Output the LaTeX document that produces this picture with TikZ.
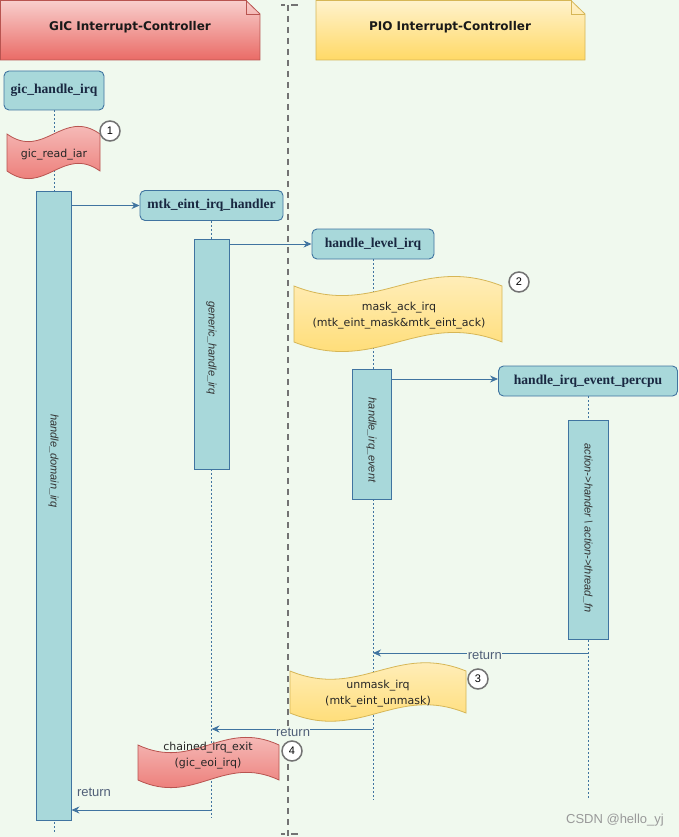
\documentclass[tikz,border=0pt]{standalone}
\usepackage{fontspec}
\setmainfont{Liberation Serif}
\setsansfont{Liberation Sans}
\newfontfamily\titlefont{DejaVu Sans}
\newfontfamily\wavefont{DejaVu Sans}
\usepackage{tikz}
\usetikzlibrary{arrows.meta,calc,positioning}

\definecolor{bgcol}{RGB}{240,249,238}
\definecolor{tealfill}{RGB}{168,216,218}
\definecolor{bluedraw}{RGB}{64,116,160}
\definecolor{redtop}{RGB}{248,206,204}
\definecolor{redbot}{RGB}{234,107,102}
\definecolor{redline}{RGB}{184,84,80}
\definecolor{yeltop}{RGB}{255,242,204}
\definecolor{yelbot}{RGB}{255,217,102}
\definecolor{yelline}{RGB}{214,182,86}
\definecolor{sepgray}{RGB}{115,115,115}
\definecolor{retcol}{RGB}{80,95,120}
\definecolor{textnavy}{RGB}{25,40,65}

% tape shaped note: style, x0, y0, x1, y1, half wave height
\newcommand{\tapenote}[6]{%
  \draw[#1] ({#2},{#3+#6}) .. controls ({#2+0.4*(#4-#2)},{#3+#6+2.2*#6}) and ({#4-0.4*(#4-#2)},{#3+#6-2.2*#6}) .. ({#4},{#3+#6})
    -- ({#4},{#5-#6}) .. controls ({#4-0.4*(#4-#2)},{#5-#6-2.2*#6}) and ({#2+0.4*(#4-#2)},{#5-#6+2.2*#6}) .. ({#2},{#5-#6}) -- cycle;}

\tikzset{
  fnbox/.style={draw=bluedraw, fill=tealfill, rounded corners=5pt, line width=0.9pt, inner sep=0pt,
    text=textnavy, font=\bfseries\fontsize{13.6}{15}\selectfont},
  actbar/.style={draw=bluedraw, fill=tealfill, line width=0.9pt, inner sep=0pt},
  bartext/.style={rotate=-90, inner sep=0pt, text=black!80, font=\sffamily\itshape\fontsize{11}{13}\selectfont},
  lifeline/.style={bluedraw, line width=0.6pt, dash pattern=on 2pt off 2pt},
  call/.style={bluedraw, line width=0.9pt, -{Stealth[length=8pt,width=7pt]}},
  retlabel/.style={fill=bgcol, inner sep=0.5pt, text=retcol, font=\sffamily\fontsize{13}{15}\selectfont},
  badge/.style={circle, draw=sepgray, line width=1.5pt, fill=white, minimum size=20pt, inner sep=0pt,
    font=\sffamily\fontsize{11}{13}\selectfont},
  wavetext/.style={align=center, inner sep=0pt, text=black!85, font=\wavefont\fontsize{11}{16}\selectfont},
  redtape/.style={top color=redtop, bottom color=redbot, draw=redline, line width=0.8pt},
  yeltape/.style={top color=yeltop, bottom color=yelbot, draw=yelline, line width=0.8pt},
  notetitle/.style={font=\titlefont\bfseries\fontsize{12}{14}\selectfont, text=black!90}
}

\begin{document}
\begin{tikzpicture}[x=1pt,y=-1pt]
\useasboundingbox (0,0) rectangle (679,837);
\fill[bgcol] (0,0) rectangle (679,837);

% headers
\draw[top color=redtop, bottom color=redbot, draw=redline, line width=0.8pt]
  (0.5,0.5) -- (246,0.5) -- (260,14) -- (260,60) -- (0.5,60) -- cycle;
\draw[redline, line width=0.8pt] (246,0.5) -- (246,14) -- (260,14);
\node[notetitle] (gictitle) at (130,27) {GIC Interrupt-Controller};
\draw[top color=yeltop, bottom color=yelbot, draw=yelline, line width=0.8pt]
  (316,0.5) -- (571,0.5) -- (585,14) -- (585,60) -- (316,60) -- cycle;
\draw[yelline, line width=0.8pt] (571,0.5) -- (571,14) -- (585,14);
\node[notetitle] (piotitle) at (450,27) {PIO Interrupt-Controller};

% separator
\draw[sepgray, line width=2pt, dash pattern=on 6pt off 5pt] (288,5) -- (288,837);
\draw[sepgray, line width=1.5pt] (281,5) -- (285,5) (291,5) -- (298,5);
\draw[sepgray, line width=1.5pt] (281,834) -- (285,834) (291,834) -- (298,834);

% lifeline heads
\node[fnbox, minimum width=100pt, minimum height=39pt] (gich) at (54,90.5) {gic\_handle\_irq};
\node[fnbox, minimum width=143pt, minimum height=30pt] (mtkh) at (211.5,205.5) {mtk\_eint\_irq\_handler};
\node[fnbox, minimum width=122pt, minimum height=30pt] (level) at (373,244) {handle\_level\_irq};
\node[fnbox, minimum width=179pt, minimum height=30pt] (percpu) at (588,381) {handle\_irq\_event\_percpu};

\coordinate (gicend) at (54,832);
\coordinate (mtkend) at (211.5,818);
\coordinate (levelend) at (373,800);
\coordinate (percpuend) at (588,800);
\draw[lifeline] (gich.south) -- (gicend);
\draw[lifeline] (mtkh.south) -- (mtkend);
\draw[lifeline] (level.south) -- (levelend);
\draw[lifeline] (percpu.south) -- (percpuend);

% activation bars
\node[actbar, minimum width=35pt, minimum height=629pt] (domain) at (53.5,505.5) {};
\node[bartext] (domaintxt) at (53.5,461) {handle\_domain\_irq};
\node[actbar, minimum width=35pt, minimum height=230pt] (generic) at (211.5,354) {};
\node[bartext] (generictxt) at (211.5,348) {generic\_handle\_irq};
\node[actbar, minimum width=39pt, minimum height=130pt] (event) at (371.5,434) {};
\node[bartext] (eventtxt) at (371.5,440) {handle\_irq\_event};
\node[actbar, minimum width=40pt, minimum height=219pt] (action) at (588,529.5) {};
\node[bartext] (actiontxt) at (588,528) {action->hander \textbackslash{} action->thread\_fn};

% calls
\draw[call] (domain.east |- mtkh) -- (mtkh.west);
\draw[call] (generic.east |- level) -- (level.west);
\draw[call] (event.east |- 0,379) -- (percpu.west |- 0,379);

% tape notes
\tapenote{redtape}{7}{122}{100}{183}{12}
\node[wavetext] (readiar) at (54,155) {gic\_read\_iar};
\node[badge] (b1) at (110,131) {1};

\tapenote{yeltape}{294}{271}{502}{357}{15}
\node[wavetext] (maskack) at (399,316) {mask\_ack\_irq\\(mtk\_eint\_mask\&mtk\_eint\_ack)};
\node[badge] (b2) at (519,282) {2};

% returns
\coordinate (r1s) at (588,653);
\coordinate (r1e) at (373,653);
\draw[call] (r1s) -- node[retlabel, pos=0.48, yshift=-2pt] (ret1) {return} (r1e);

\tapenote{yeltape}{290}{658}{466}{726}{13}
\node[wavetext] (unmask) at (378,694) {unmask\_irq\\(mtk\_eint\_unmask)};
\node[badge] (b3) at (478,679) {3};

\coordinate (r2s) at (373,729);
\coordinate (r2e) at (211.5,729);
\draw[call] (r2s) -- (r2e);
\node[retlabel] (ret2) at (293,732) {return};

\tapenote{redtape}{138}{733}{279}{792}{12}
\node[wavetext] (chained) at (208,756) {chained\_irq\_exit\\(gic\_eoi\_irq)};
\node[badge] (b4) at (292,751) {4};

\coordinate (r3s) at (211.5,810);
\draw[call] (r3s) -- (domain.east |- r3s);
\node[retlabel, fill=none] (ret3) at (94,792) {return};

\node[text=black!40, font=\sffamily\fontsize{13}{15}\selectfont] (mark) at (615,820) {CSDN @hello\_yj};
\end{tikzpicture}
\end{document}
